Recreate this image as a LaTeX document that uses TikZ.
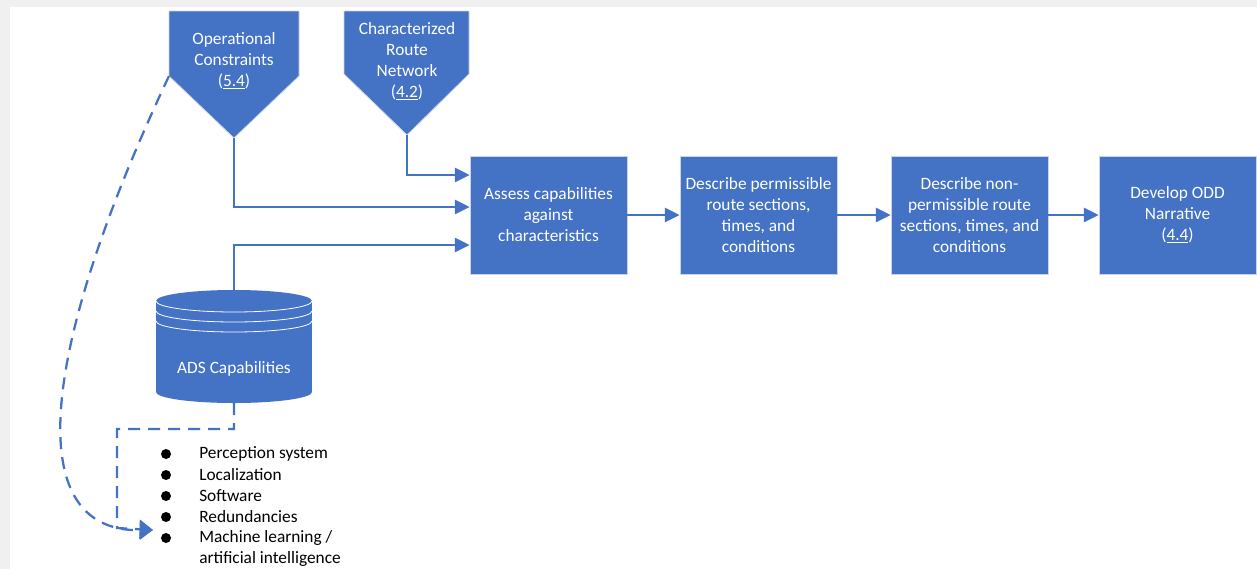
\documentclass[tikz,border=0pt]{standalone}
\usepackage{fontspec}
\setmainfont{Carlito}
\usetikzlibrary{arrows.meta}
\definecolor{odblue}{RGB}{68,114,196}
\definecolor{odedge}{RGB}{205,212,225}

\begin{document}
\begin{tikzpicture}[x=0.75pt,y=-0.75pt,
    font=\fontsize{13}{15.75}\selectfont,
    procbox/.style={draw=odedge,line width=0.6pt,fill=odblue,text=white,
      minimum width=117.75pt,minimum height=88.5pt,align=center,inner sep=2pt},
    offpage/.style={fill=odblue,draw=odedge,line width=0.6pt},
    flow/.style={draw=odblue,line width=1.7pt,-{Triangle[length=11pt,width=10.5pt]}},
    dashflow/.style={draw=odblue,line width=1.7pt,dash pattern=on 9pt off 6pt,
      -{Triangle[length=10pt,width=14pt]}}]
  \useasboundingbox (0,0) rectangle (1257,569);
  \fill[gray!12] (0,0) rectangle (1257,569);
  \fill[white] (10,7) rectangle (1257,569);

  % off-page inputs
  \filldraw[offpage] (169,11) -- (299,11) -- (299,76) -- (234,138) -- (169,76) -- cycle;
  \filldraw[offpage] (344,11) -- (469,11) -- (469,74) -- (407,135) -- (344,74) -- cycle;
  \node[text=white,align=center] (opc) at (234,61) {Operational\\Constraints\\(\underline{5.4})};
  \node[text=white,align=center] (crn) at (407,61) {Characterized\\Route\\Network\\(\underline{4.2})};
  \coordinate (opc-tip) at (234,138);
  \coordinate (opc-corner) at (169,76);
  \coordinate (crn-tip) at (407,135);

  % process steps
  \node[procbox] (assess) at (548.5,215) {Assess capabilities\\against\\characteristics};
  \node[procbox] (permit) at (758.5,215) {Describe permissible\\route sections,\\times, and\\conditions};
  \node[procbox] (nonpermit) at (969.5,215) {Describe non-\\permissible route\\sections, times, and\\conditions};
  \node[procbox] (odd) at (1177.5,215) {Develop ODD\\Narrative\\(\underline{4.4})};

  % ADS capabilities store
  \fill[odblue] (156,301) rectangle (312,392);
  \fill[odblue] (234,392) ellipse [x radius=78,y radius=11];
  \fill[odblue] (234,301) ellipse [x radius=78,y radius=11];
  \foreach \d in {0,10,20}
    \draw[white,line width=0.6pt] (156,301+\d) arc [start angle=180,end angle=0,x radius=78,y radius=11];
  \node[text=white] (ads) at (234,369) {ADS Capabilities};
  \coordinate (ads-top) at (234,290);
  \coordinate (ads-bot) at (234,403);

  % capability list
  \foreach \t [count=\i] in {Perception system,Localization,Software,Redundancies,Machine learning /}{
    \fill (166,433+21*\i) circle (5);
    \node[anchor=west,inner sep=0pt] (item\i) at (199,433+21*\i) {\t};
  }
  \node[anchor=west,inner sep=0pt] (item6) at (199,559) {artificial intelligence};
  \coordinate (list-in) at (153,530);

  % connectors
  \draw[flow] (crn-tip) |- (assess.west |- 0,175);
  \draw[flow] (opc-tip) |- (assess.west |- 0,207);
  \draw[flow] (ads-top) |- (assess.west |- 0,245);
  \draw[flow] (assess) -- (permit);
  \draw[flow] (permit) -- (nonpermit);
  \draw[flow] (nonpermit) -- (odd);
  \draw[dashflow] (ads-bot) -- (234,429) -| (117,528) -- (list-in);
  \draw[dashflow] (opc-corner) .. controls (40,350) and (20,532) .. (list-in);
\end{tikzpicture}
\end{document}
